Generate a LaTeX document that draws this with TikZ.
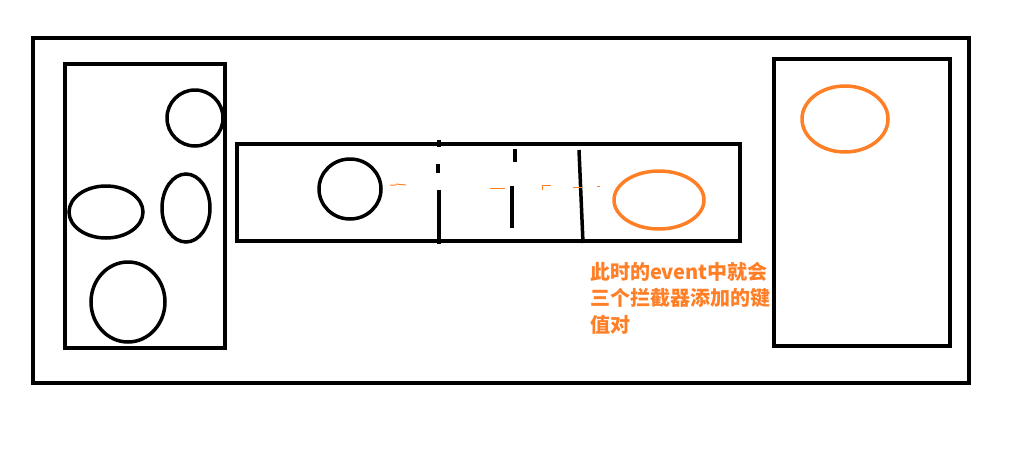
\documentclass[tikz,border=0pt]{standalone}
\usepackage{fontspec}
\newfontfamily\cjk{Noto Sans CJK SC}
\definecolor{paintorange}{RGB}{255,127,39}
\tikzset{
  trait/.style={line width=3.5pt},
  boite/.style={trait, draw=black},
}
\begin{document}
\begin{tikzpicture}[x=1pt,y=-1pt]
        \useasboundingbox (0,0) rectangle (1022,450);

        % Le grand cadre
        \draw[boite] (33,38) rectangle (969,383);

        % La boite de gauche et ses formes
        \draw[boite] (65,64) rectangle (225,348);
        \draw[trait] (195,118) ellipse (28 and 28);
        \draw[trait] (106,212) ellipse (37 and 26);
        \draw[trait] (186,208) ellipse (24 and 34);
        \draw[trait] (128,302) ellipse (37 and 40);

        % La bande du milieu
        \draw[boite] (237,144) rectangle (740,241);
        \draw[trait] (350,189) ellipse (31 and 30);
        \draw[trait, paintorange] (659,200) ellipse (45 and 29);

        % Les traits verticaux
        \draw[trait] (439,140) -- (439,147);
        \draw[trait] (438,164) -- (438,173);
        \draw[trait] (439,190) -- (439,244);
        \draw[trait] (515,149) -- (515,162);
        \draw[trait] (512,186) -- (512,228);
        \draw[trait] (579,150) -- (583,243);

        % Les petites traces orange
        \draw[paintorange, line width=1pt] (390,185) -- (396,185) (396,184) -- (406,185);
        \draw[paintorange, line width=1pt] (490,188) -- (505,188);
        \draw[paintorange, line width=1pt] (542,190) -- (542,185) -- (551,185);
        \draw[paintorange, line width=1pt] (573,187) -- (582,187) (597,186) -- (600,186);

        % Le texte
        \node[paintorange, anchor=north west, align=left, inner sep=0pt,
              font=\cjk\bfseries\fontsize{20}{26.5}\selectfont] (note) at (590,262)
              {此时的event中就会\\三个拦截器添加的键\\值对};

        % La boite de droite
        \draw[boite, fill=white] (774,59) rectangle (950,346);
        \draw[trait, paintorange] (845,119) ellipse (43 and 33);

\end{tikzpicture}
\end{document}
